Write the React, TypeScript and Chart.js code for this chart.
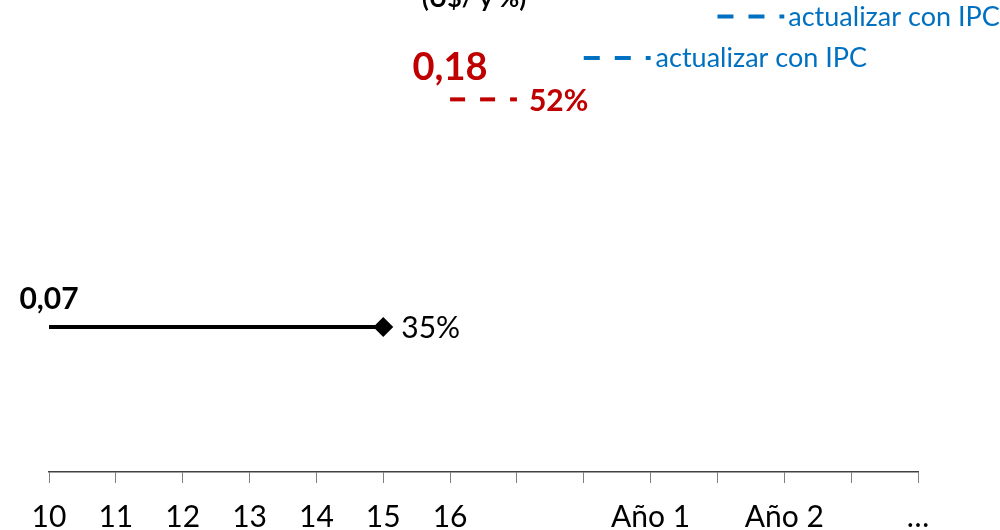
import React, { useEffect, useRef } from "react";
import { Chart, registerables } from "chart.js";

Chart.register(...registerables);

const categories = ["10", "11", "12", "13", "14", "15", "16", "", "", "Año 1", "", "Año 2", "", "…"];
const actualValues = [0.07, 0.07, 0.07, 0.07, 0.07, 0.07, null, null, null, null, null, null, null, null];
const proposedValues = [null, null, null, null, null, null, 0.18, 0.18, null, null, null, null, null, null];
const ipcValuesA = [null, null, null, null, null, null, null, null, 0.2, 0.2, null, null, null, null];
const ipcValuesB = [null, null, null, null, null, null, null, null, null, null, 0.22, 0.22, null, null];
const titleText = "(U$/ y %)";
const actualValueLabel = "0,07";
const actualPctLabel = "35%";
const proposedValueLabel = "0,18";
const proposedPctLabel = "52%";
const ipcLabel = "actualizar con IPC";

const FONT = "Lato";
const RED = "#C00000";
const BLUE = "#0070C0";

const textPlugin = {
  id: "textLabels",
  afterDatasetsDraw(chart: any) {
    const { ctx, scales } = chart;
    const x = scales.x;
    const y = scales.y;
    ctx.save();
    ctx.textBaseline = "alphabetic";

    // title (partly outside the visible area)
    ctx.fillStyle = "#000";
    ctx.font = `bold 25px ${FONT}`;
    ctx.textAlign = "center";
    ctx.fillText(titleText, x.getPixelForValue(6) + 24, 7);

    // actual
    ctx.font = `bold 30px ${FONT}`;
    ctx.textAlign = "center";
    ctx.fillText(actualValueLabel, x.getPixelForValue(0), y.getPixelForValue(0.07) - 18);
    ctx.font = `30px ${FONT}`;
    ctx.textAlign = "left";
    ctx.fillText(actualPctLabel, x.getPixelForValue(5) + 18, y.getPixelForValue(0.07) + 11);

    // proposed
    ctx.fillStyle = RED;
    ctx.font = `bold 38px ${FONT}`;
    ctx.textAlign = "center";
    ctx.fillText(proposedValueLabel, x.getPixelForValue(6), y.getPixelForValue(0.18) - 19);
    ctx.font = `bold 30px ${FONT}`;
    ctx.textAlign = "left";
    ctx.fillText(proposedPctLabel, x.getPixelForValue(7) + 12, y.getPixelForValue(0.18) + 12);

    // IPC
    ctx.fillStyle = BLUE;
    ctx.font = `27px ${FONT}`;
    ctx.textAlign = "left";
    ctx.fillText(ipcLabel, x.getPixelForValue(9) + 5, y.getPixelForValue(0.2) + 9);
    ctx.fillText(ipcLabel, x.getPixelForValue(11) + 4, y.getPixelForValue(0.22) + 9);

    ctx.restore();
  },
};

export default function App() {
  const ref = useRef<HTMLCanvasElement | null>(null);
  useEffect(() => {
    if (!ref.current) return;
    const chart = new Chart(ref.current, {
      type: "line",
      data: {
        labels: categories,
        datasets: [
          {
            data: actualValues,
            borderColor: "#000",
            backgroundColor: "#000",
            borderWidth: 4,
            pointStyle: "rectRot",
            pointRadius: [0, 0, 0, 0, 0, 10, 0, 0, 0, 0, 0, 0, 0, 0],
            pointBorderWidth: 0,
          },
          {
            data: proposedValues,
            borderColor: RED,
            borderWidth: 4,
            borderDash: [15, 15],
            pointRadius: 0,
          },
          {
            data: ipcValuesA,
            borderColor: BLUE,
            borderWidth: 4,
            borderDash: [16, 15],
            pointRadius: 0,
          },
          {
            data: ipcValuesB,
            borderColor: BLUE,
            borderWidth: 4,
            borderDash: [16, 15],
            pointRadius: 0,
          },
        ],
      },
      options: {
        animation: false,
        responsive: true,
        maintainAspectRatio: false,
        layout: { padding: { left: 49, right: 82, top: 0, bottom: 0 } },
        plugins: { legend: { display: false }, tooltip: { enabled: false }, title: { display: false } },
        scales: {
          x: {
            type: "category",
            offset: false,
            grid: {
              display: true,
              drawOnChartArea: false,
              drawTicks: true,
              tickLength: 11,
              color: "#7f7f7f",
              lineWidth: 1,
              offset: false,
            },
            border: { display: true, color: "#404040", width: 1.5 },
            ticks: {
              autoSkip: false,
              maxRotation: 0,
              minRotation: 0,
              padding: 19,
              color: "#000",
              font: { family: FONT, size: 30, lineHeight: 1 },
            },
          },
          y: {
            display: false,
            min: 0,
            max: 0.228,
          },
        },
      },
      plugins: [textPlugin],
    });
    return () => chart.destroy();
  }, []);
  return (
    <div style={{ position: "absolute", left: 0, top: 0, width: 1000, height: 530, overflow: "hidden", background: "#fff" }}>
      <div style={{ position: "relative", width: 1000, height: 551 }}>
        <canvas ref={ref} />
      </div>
    </div>
  );
}
